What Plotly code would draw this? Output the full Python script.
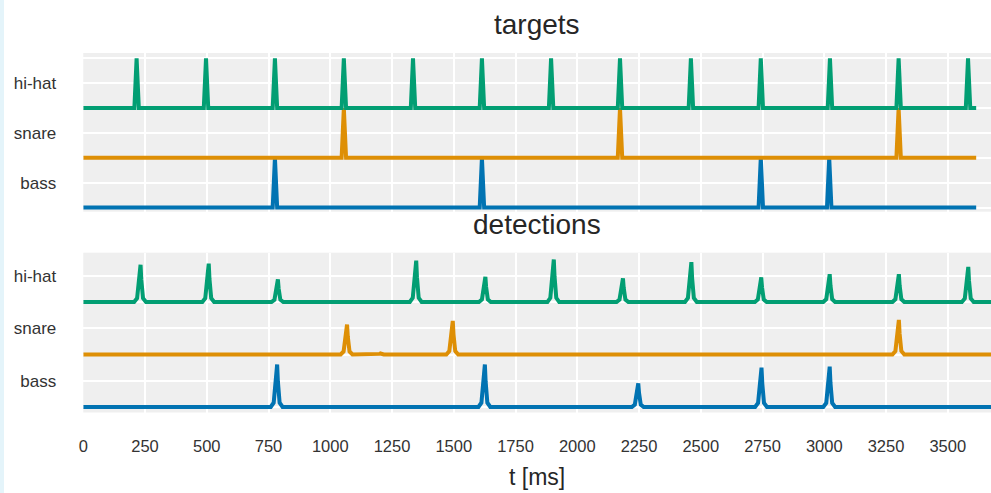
import plotly.graph_objects as go

# ---------------- data ----------------
instruments = ["bass", "snare", "hi-hat"]
row_offset = {"bass": 0, "snare": 1, "hi-hat": 2}
colors = {"bass": "#0173B2", "snare": "#DE8F05", "hi-hat": "#029E73"}

# target onsets (ms) and peak heights
target_hihat_t = [216, 497, 776, 1055, 1335, 1614, 1894, 2173, 2460, 2743, 3023, 3301, 3582]
target_hihat_h = [1.0] * 13
target_snare_t = [1055, 2173, 3301]
target_snare_h = [1.0, 1.0, 1.0]
target_bass_t = [776, 1614, 2743, 3020]
target_bass_h = [1.0, 1.0, 1.0, 1.0]
target_end = 3615

# detection peaks (ms) and activation heights
det_hihat_t = [230, 506, 786, 1346, 1626, 1903, 2183, 2460, 2743, 3020, 3300, 3581]
det_hihat_h = [0.71, 0.73, 0.43, 0.79, 0.48, 0.81, 0.45, 0.76, 0.47, 0.53, 0.53, 0.67]
det_snare_t = [1066, 1205, 1494, 3300]
det_snare_h = [0.57, 0.02, 0.64, 0.66]
det_bass_t = [783, 1624, 2245, 2744, 3020]
det_bass_h = [0.81, 0.81, 0.45, 0.75, 0.77]
det_end = 3720

x_tick_vals = list(range(0, 3501, 250))
x_range = [0, 3675]
y_range_top = [-0.084, 3.105]
y_range_bottom = [-0.105, 2.94]

# peak drawing shapes (style): offsets in ms and relative height
target_shape_dt = [-9, 0, 9]
target_shape_f = [0.0, 1.0, 0.0]
det_shape_dt = [-24, -12, -5, -2, 2, 5, 12, 24]
det_shape_f = [0.0, 0.1, 0.6, 1.0, 1.0, 0.6, 0.1, 0.0]


def build(times, heights, base, end, dts, fs):
    xs, ys = [0], [base]
    for t, h in zip(times, heights):
        for dt, f in zip(dts, fs):
            xs.append(t + dt)
            ys.append(base + h * f)
    xs.append(end)
    ys.append(base)
    return xs, ys


targets = {
    "hi-hat": (target_hihat_t, target_hihat_h),
    "snare": (target_snare_t, target_snare_h),
    "bass": (target_bass_t, target_bass_h),
}
detections = {
    "hi-hat": (det_hihat_t, det_hihat_h),
    "snare": (det_snare_t, det_snare_h),
    "bass": (det_bass_t, det_bass_h),
}

fig = go.Figure()
for name in ["bass", "snare", "hi-hat"]:
    t, h = targets[name]
    xs, ys = build(t, h, row_offset[name], target_end, target_shape_dt, target_shape_f)
    fig.add_trace(go.Scatter(x=xs, y=ys, mode="lines", xaxis="x", yaxis="y",
                             line=dict(color=colors[name], width=4), showlegend=False,
                             hoverinfo="skip"))
for name in ["bass", "snare", "hi-hat"]:
    t, h = detections[name]
    xs, ys = build(t, h, row_offset[name], det_end, det_shape_dt, det_shape_f)
    fig.add_trace(go.Scatter(x=xs, y=ys, mode="lines", xaxis="x2", yaxis="y2",
                             line=dict(color=colors[name], width=4), showlegend=False,
                             hoverinfo="skip"))

W, H = 991, 493
font = "Liberation Sans, Arial, sans-serif"
txt = "#333333"
bg = "#EFEFEF"

x_left = 83.25 / W
top_dom = [1 - 211.7 / H, 1 - 53 / H]
bot_dom = [1 - 412.5 / H, 1 - 252.7 / H]

common_x = dict(range=x_range, tickvals=x_tick_vals, showgrid=True, gridcolor="white",
                gridwidth=1.5, zeroline=False, showline=False, ticks="", automargin=False,
                domain=[x_left, 1.0], tickfont=dict(family=font, size=16.5, color=txt))
common_y = dict(tickvals=[0.5, 1.5, 2.5], ticktext=["bass", "snare", "hi-hat"],
                showgrid=True, gridcolor="white", gridwidth=1.5, zeroline=False,
                showline=False, ticks="", tickfont=dict(family=font, size=17, color=txt),
                ticklabelstandoff=26, automargin=False,
                minor=dict(tickvals=[0, 1, 2, 3], showgrid=True, gridcolor="white",
                           gridwidth=1.5, ticks=""))

fig.update_layout(
    width=W, height=H,
    margin=dict(l=0, r=0, t=0, b=0, pad=0),
    paper_bgcolor="white",
    plot_bgcolor=bg,
    xaxis=dict(common_x, anchor="y", showticklabels=False),
    yaxis=dict(common_y, domain=top_dom, range=y_range_top, anchor="x"),
    xaxis2=dict(common_x, anchor="y2", showticklabels=True, ticklabelstandoff=22),
    yaxis2=dict(common_y, domain=bot_dom, range=y_range_bottom, anchor="x2"),
    annotations=[
        dict(text="targets", x=(x_left + 1) / 2, y=1 - 25 / H, xref="paper", yref="paper",
             showarrow=False, font=dict(family=font, size=28, color="#262626"),
             xanchor="center", yanchor="middle"),
        dict(text="detections", x=(x_left + 1) / 2, y=1 - 224 / H, xref="paper", yref="paper",
             showarrow=False, font=dict(family=font, size=28, color="#262626"),
             xanchor="center", yanchor="middle"),
        dict(text="t [ms]", x=(x_left + 1) / 2, y=1 - 477 / H, xref="paper", yref="paper",
             showarrow=False, font=dict(family=font, size=23, color="#262626"),
             xanchor="center", yanchor="middle"),
    ],
    shapes=[
        dict(type="rect", xref="paper", yref="paper", x0=0, x1=4 / W, y0=0, y1=1,
             fillcolor="#E4F4FA", line=dict(width=0), layer="above"),
    ],
)

fig.write_html(
    "out.html",
    config={"displayModeBar": False},
    post_script=(
        "document.documentElement.style.margin='0';"
        "document.body.style.margin='0';document.body.style.padding='0';"
        "var d=document.getElementById('{plot_id}');"
        "d.style.position='absolute';d.style.left='0px';d.style.top='0px';"
    ),
)
